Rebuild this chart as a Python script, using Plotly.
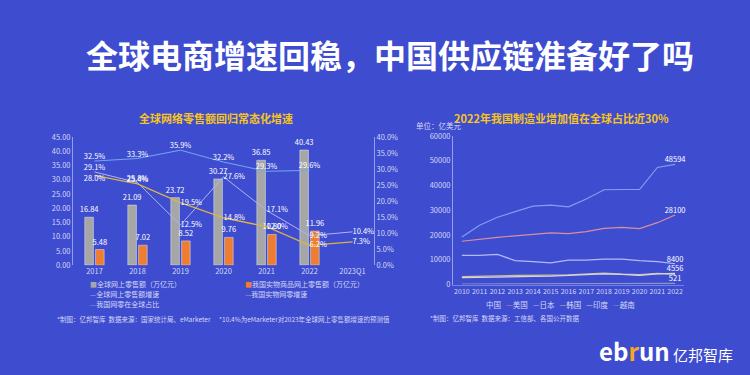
import plotly.graph_objects as go

# ---------------- Left chart data ----------------
periods = ["2017", "2018", "2019", "2020", "2021", "2022", "2023Q1"]
global_sales = [16.84, 21.09, 23.72, 30.27, 36.85, 40.43, None]      # 万亿元
china_sales = [5.48, 7.02, 8.52, 9.76, 10.80, 11.96, None]           # 万亿元
global_growth = [29.1, 25.8, 12.5, 27.6, 17.1, 9.2, 10.4]            # %
china_growth = [28.0, 25.4, 19.5, 14.8, 12.0, 6.2, 7.3]              # %
china_share = [32.5, 33.3, 35.9, 32.2, 29.3, 29.6, None]             # %

left_names = ["全球网上零售额（万亿元）", "我国实物商品网上零售额（万亿元）",
              "全球网上零售额增速", "我国实物网零增速", "我国网零在全球占比"]

# ---------------- Right chart data ----------------
years = ["2010", "2011", "2012", "2013", "2014", "2015", "2016",
         "2017", "2018", "2019", "2020", "2021", "2022"]
mfg_china = [19200, 24000, 27200, 29500, 31700, 32100, 31400, 34600, 38300, 38400, 38400, 47300, 48594]
mfg_usa = [17500, 18400, 19100, 19700, 20300, 20900, 20600, 21400, 22700, 23100, 22600, 25000, 28100]
mfg_japan = [11800, 11800, 12200, 9700, 9300, 8800, 9900, 9900, 10300, 10300, 9700, 9300, 8400]
mfg_korea = [3200, 3500, 3500, 3700, 3900, 3800, 3900, 4300, 4600, 4200, 4000, 4500, 4160]
mfg_india = [2800, 3000, 3000, 3200, 3300, 3400, 3600, 4000, 4300, 4100, 3700, 4300, 4556]
mfg_vietnam = [230, 260, 300, 330, 360, 380, 400, 430, 460, 480, 490, 510, 521]
right_names = ["中国", "美国", "日本", "韩国", "印度", "越南"]
labelled = [True, True, True, False, True, True]

# ---------------- Styles ----------------
BG = "#3e4ccf"
FONT = "Noto Sans CJK SC"
TICK = "#d4d8f6"
YELLOW = "#f6c51e"
C_GREY = "#a6a6a6"
C_ORANGE = "#ed7d31"
C_GGROW = "#aeb6ee"
C_CGROW = "#dcb24a"
C_SHARE = "#79a6ec"
right_colors = ["#7f9ff2", "#d98f9d", "#b3baf6", "#cbc08c", "#d6d6de", "#8d95c4"]

fig = go.Figure()

# bars
for vals, name, col in [(global_sales, left_names[0], C_GREY), (china_sales, left_names[1], C_ORANGE)]:
    fig.add_trace(go.Bar(x=periods, y=vals, name=name, marker_color=col,
                         texttemplate="%{y:.2f}", textposition="outside",
                         constraintext="none",
                         textfont=dict(size=7.5, color="white"), cliponaxis=False,
                         xaxis="x", yaxis="y", showlegend=False))
# lines on secondary axis
fig.add_trace(go.Scatter(x=periods, y=global_growth, name=left_names[2], mode="lines+text",
                         line=dict(color=C_GGROW, width=1),
                         texttemplate="%{y:.1f}%",
                         textposition=["top center", "top center", "middle right", "middle right",
                                       "middle right", "middle right", "middle right"],
                         textfont=dict(size=7.5, color="white"), cliponaxis=False,
                         xaxis="x", yaxis="y2", showlegend=False))
fig.add_trace(go.Scatter(x=periods, y=china_growth, name=left_names[3], mode="lines+text",
                         line=dict(color=C_CGROW, width=1.3),
                         texttemplate="%{y:.1f}%",
                         textposition=["bottom center", "top center", "middle right", "middle right",
                                       "middle right", "middle right", "middle right"],
                         textfont=dict(size=7.5, color="white"), cliponaxis=False,
                         xaxis="x", yaxis="y2", showlegend=False))
fig.add_trace(go.Scatter(x=periods, y=china_share, name=left_names[4], mode="lines+text",
                         line=dict(color=C_SHARE, width=1),
                         texttemplate="%{y:.1f}%", textposition="top center",
                         textfont=dict(size=7.5, color="white"), cliponaxis=False,
                         xaxis="x", yaxis="y2", showlegend=False))

# right chart lines
right_series = [mfg_china, mfg_usa, mfg_japan, mfg_korea, mfg_india, mfg_vietnam]
for name, vals, col, lab in zip(right_names, right_series, right_colors, labelled):
    txt = [""] * (len(vals) - 1) + [str(vals[-1]) if lab else ""]
    fig.add_trace(go.Scatter(x=years, y=vals, name=name, mode="lines+text",
                             line=dict(color=col, width=1.2), text=txt,
                             textposition="top center",
                             textfont=dict(size=7.5, color="white"), cliponaxis=False,
                             xaxis="x2", yaxis="y3", showlegend=False))

axis_font = dict(size=7.5, color=TICK, family=FONT)
line_col = "rgba(220,225,255,0.55)"

fig.update_layout(
    width=750, height=375,
    margin=dict(l=0, r=0, t=0, b=0),
    paper_bgcolor=BG, plot_bgcolor="rgba(0,0,0,0)",
    font=dict(family=FONT, color="white"),
    barmode="group", bargap=0.5, bargroupgap=0.2,
    title=dict(text="<b>全球电商增速回稳，中国供应链准备好了吗</b>",
               x=0.52, xanchor="center", y=0.848, yanchor="middle",
               font=dict(size=32, color="white", family=FONT)),
    xaxis=dict(domain=[0.0973, 0.4987], anchor="y", type="category",
               showgrid=False, showline=False, ticks="", tickfont=axis_font,
               zeroline=False, tickangle=0),
    yaxis=dict(domain=[0.288, 0.64], anchor="x", range=[0, 45], dtick=5,
               tickformat=".2f", showgrid=False, showline=True, linecolor=line_col,
               linewidth=1, tickfont=axis_font, zeroline=False, ticks=""),
    yaxis2=dict(overlaying="y", side="right", anchor="x", range=[0, 40], dtick=5,
                tickformat=".1f", ticksuffix="%", showgrid=False, showline=True,
                linecolor=line_col, linewidth=1, tickfont=axis_font, zeroline=False,
                ticks=""),
    xaxis2=dict(domain=[0.604, 0.912], anchor="y3", type="category",
                range=[-0.5, 12.5], showgrid=False, showline=True,
                linecolor="rgba(220,225,255,0.35)", ticks="",
                tickfont=dict(size=7, color=TICK, family=FONT),
                zeroline=False, tickangle=0),
    yaxis3=dict(domain=[0.2347, 0.6427], anchor="x2", range=[0, 60000], dtick=10000,
                tickformat="d",
                showgrid=False, showline=True, linecolor=line_col, linewidth=1,
                tickfont=axis_font, zeroline=False, ticks=""),
)

ann = []
# subtitles
ann.append(dict(text="<b>全球网络零售额回归常态化增速</b>", x=0.288, y=0.693,
                xref="paper", yref="paper", xanchor="center", yanchor="middle",
                showarrow=False, font=dict(size=11, color=YELLOW, family=FONT)))
ann.append(dict(text="<b>2022年我国制造业增加值在全球占比近30%</b>", x=0.748, y=0.693,
                xref="paper", yref="paper", xanchor="center", yanchor="middle",
                showarrow=False, font=dict(size=11, color=YELLOW, family=FONT)))
ann.append(dict(text="单位：亿美元", x=0.585, y=0.673, xref="paper", yref="paper",
                xanchor="center", yanchor="middle", showarrow=False,
                font=dict(size=7.5, color=TICK, family=FONT)))

# left legend (two columns)
leg_font = dict(size=7, color=TICK, family=FONT)
left_marks = [("■", C_GREY), ("■", C_ORANGE), ("—", C_GGROW), ("—", C_CGROW), ("—", C_SHARE)]
left_pos = [(0.117, 0.237), (0.324, 0.237), (0.117, 0.209), (0.324, 0.209), (0.117, 0.181)]
for name, (sym, col), (px, py) in zip(left_names, left_marks, left_pos):
    ann.append(dict(text=f"<span style='color:{col}'>{sym}</span>{name}", x=px, y=py,
                    xref="paper", yref="paper", xanchor="left", yanchor="middle",
                    showarrow=False, font=leg_font))

# right legend (single row)
parts = []
for i, (name, col) in enumerate(zip(right_names, right_colors)):
    sym = "" if i == 0 else f"<span style='color:{col}'>—</span>"
    parts.append(sym + name)
ann.append(dict(text="   ".join(parts), x=0.747, y=0.181, xref="paper", yref="paper",
                xanchor="center", yanchor="middle", showarrow=False,
                font=dict(size=7.5, color=TICK, family=FONT)))

# footnotes
foot_font = dict(size=6.5, color=TICK, family=FONT)
ann.append(dict(text="*制图：亿邦智库  数据来源：国家统计局、eMarketer", x=0.073, y=0.139,
                xref="paper", yref="paper", xanchor="left", yanchor="middle",
                showarrow=False, font=foot_font))
ann.append(dict(text="*10.4%为eMarketer对2023年全球网上零售额增速的预测值", x=0.289, y=0.139,
                xref="paper", yref="paper", xanchor="left", yanchor="middle",
                showarrow=False, font=foot_font))
ann.append(dict(text="*制图：亿邦智库  数据来源：工信部、各国公开数据", x=0.571, y=0.144,
                xref="paper", yref="paper", xanchor="left", yanchor="middle",
                showarrow=False, font=foot_font))

# logo
ann.append(dict(text="<b><span style='font-size:24px'>eb<span style='color:#f5a623'>r</span>un</span></b> 亿邦智库",
                x=0.98, y=0.053, xref="paper", yref="paper", xanchor="right",
                yanchor="middle", showarrow=False,
                font=dict(size=15, color="white", family=FONT)))

fig.update_layout(annotations=ann)

fig.write_html("out.html", config={"displayModeBar": False},
               post_script="document.body.style.margin='0';")
